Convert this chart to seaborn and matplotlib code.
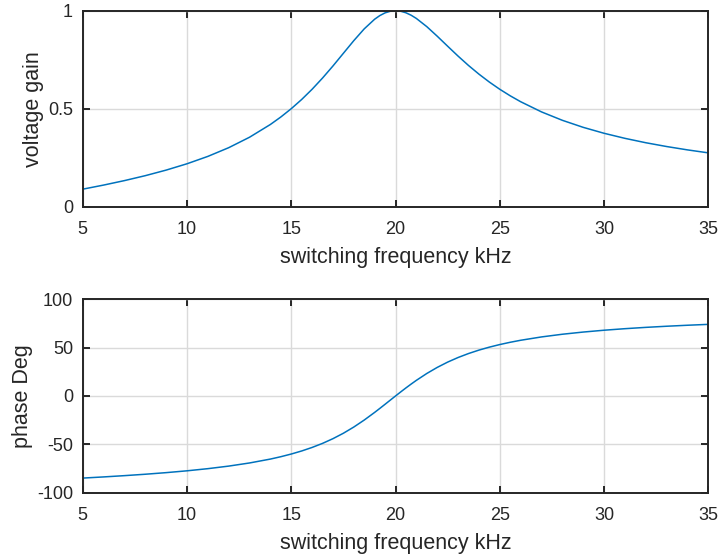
import numpy as np
import pandas as pd
import matplotlib
matplotlib.use("Agg")
import matplotlib.pyplot as plt
import seaborn as sns

# Switching frequency (kHz)
freq_khz = [5, 6, 7, 8, 9, 10, 11, 12, 13, 14, 14.5, 15, 15.5, 16, 16.5, 17,
            17.5, 18, 18.5, 19, 19.25, 19.5, 19.75, 20, 20.25, 20.5, 20.75, 21,
            21.5, 22, 22.5, 23, 23.5, 24, 24.5, 25, 25.5, 26, 27, 28, 29, 30,
            31, 32, 33, 34, 35]

# Normalised voltage gain
voltage_gain = [0.0894, 0.1103, 0.1331, 0.1583, 0.1867, 0.2190, 0.2566, 0.3010,
                0.3544, 0.4195, 0.4576, 0.5000, 0.5470, 0.5991, 0.6563, 0.7179,
                0.7826, 0.8472, 0.9073, 0.9566, 0.9752, 0.9889, 0.9972, 1.0000,
                0.9973, 0.9894, 0.9769, 0.9604, 0.9187, 0.8699, 0.8188, 0.7684,
                0.7206, 0.6764, 0.6359, 0.5991, 0.5658, 0.5357, 0.4837, 0.4408,
                0.4049, 0.3746, 0.3488, 0.3264, 0.3070, 0.2899, 0.2747]

# Phase (degrees)
phase_deg = [-84.87, -83.67, -82.35, -80.89, -79.24, -77.35, -75.13, -72.48,
             -69.24, -65.21, -62.77, -60.00, -56.84, -53.19, -48.99, -44.12,
             -38.51, -32.09, -24.87, -16.95, -12.79, -8.55, -4.27, 0.00, 4.22,
             8.35, 12.34, 16.17, 23.27, 29.55, 35.04, 39.79, 43.89, 47.44,
             50.51, 53.19, 55.54, 57.61, 61.07, 63.85, 66.11, 68.00, 69.59,
             70.95, 72.12, 73.15, 74.06]

x_ticks = [5, 10, 15, 20, 25, 30, 35]
gain_ticks = [0, 0.5, 1]
gain_tick_labels = ["0", "0.5", "1"]
phase_ticks = [-100, -50, 0, 50, 100]

df = pd.DataFrame({"freq": freq_khz, "gain": voltage_gain, "phase": phase_deg})

sns.set_theme(style="ticks")
plt.rcParams["font.family"] = ["Liberation Sans", "DejaVu Sans"]
plt.rcParams["axes.unicode_minus"] = False

line_color = "#0072BD"
axis_color = "#262626"
text_color = "#262626"

fig = plt.figure(figsize=(7.21, 5.57), dpi=100)
ax1 = fig.add_axes([0.1147, 0.6289, 0.8677, 0.3519])
ax2 = fig.add_axes([0.1147, 0.1154, 0.8677, 0.3473])

sns.lineplot(data=df, x="freq", y="gain", ax=ax1, color=line_color, linewidth=1.1)
sns.lineplot(data=df, x="freq", y="phase", ax=ax2, color=line_color, linewidth=1.1)


def style_axes(ax, yticks, ylim, ylabel, yticklabels=None):
    ax.set_xlim(5, 35)
    ax.set_ylim(*ylim)
    ax.set_xticks(x_ticks)
    ax.set_yticks(yticks)
    if yticklabels is not None:
        ax.set_yticklabels(yticklabels)
    ax.grid(True, color="#dadada", linewidth=1.0)
    ax.set_axisbelow(True)
    for s in ax.spines.values():
        s.set_visible(True)
        s.set_color(axis_color)
        s.set_linewidth(1.4)
    ax.tick_params(direction="in", length=5, width=1.4, color=axis_color,
                   top=True, right=True, labelsize=13, labelcolor=text_color)
    ax.tick_params(axis="x", pad=10)
    ax.tick_params(axis="y", pad=7)
    ax.set_xlabel("switching frequency kHz", fontsize=15.5, color=text_color, labelpad=7)
    ax.set_ylabel(ylabel, fontsize=15.5, color=text_color, labelpad=3)


style_axes(ax1, gain_ticks, (0, 1), "voltage gain", gain_tick_labels)
style_axes(ax2, phase_ticks, (-100, 100), "phase Deg")

fig.savefig("out.png", dpi=100)
